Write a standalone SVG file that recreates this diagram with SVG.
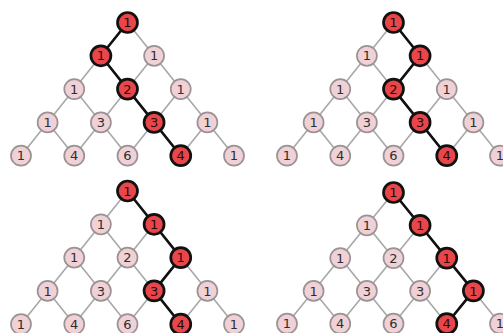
<svg xmlns="http://www.w3.org/2000/svg" width="503" height="333" viewBox="0 0 503 333">
<style>
.bg{fill:#ffffff}
.e{fill:none;stroke:#a8a8a8;stroke-width:1.6}
.p{fill:none;stroke:#111111;stroke-width:2.6;stroke-linejoin:round}
.n circle{fill:#f0d2d6;stroke:#9a9294;stroke-width:1.7}
.r circle{fill:#e8464a;stroke:#111111;stroke-width:2.7}
.n text,.r text{font-family:"DejaVu Sans",sans-serif;font-size:13px;fill:#2e2e2e;text-anchor:middle}
.r text{fill:#2a0808}
</style>
<defs>
<path id="lat" d="M0,0L-106.5,133.2M26.6,33.3L-53.25,133.2M53.25,66.6L0,133.2M79.9,99.9L53.25,133.2M0,0L106.5,133.2M-26.6,33.3L53.25,133.2M-53.25,66.6L0,133.2M-79.9,99.9L-53.25,133.2"/>
</defs>
<rect class="bg" x="0" y="0" width="503" height="333"/>
<g id="connectors">
<use href="#lat" class="e" transform="translate(127.5,22.5)"/>
<use href="#lat" class="e" transform="translate(393.5,22.5)"/>
<use href="#lat" class="e" transform="translate(127.5,191)"/>
<use href="#lat" class="e" transform="translate(393.5,192.5) scale(1,0.985)"/>
<path class="p" transform="translate(127.5,22.5)" d="M0,0L-26.6,33.3L0,66.6L26.6,99.9L53.25,133.2"/>
<path class="p" transform="translate(393.5,22.5)" d="M0,0L26.6,33.3L0,66.6L26.6,99.9L53.25,133.2"/>
<path class="p" transform="translate(127.5,191)" d="M0,0L26.6,33.3L53.25,66.6L26.6,99.9L53.25,133.2"/>
<path class="p" transform="translate(393.5,192.5) scale(1,0.985)" d="M0,0L26.6,33.3L53.25,66.6L79.9,99.9L53.25,133.2"/>
</g>
<g id="tl">
<g id="tl-0-0" class="r" transform="translate(127.5,22.5)"><circle r="10"/><text y="4.6">1</text></g>
<g id="tl-1-0" class="r" transform="translate(100.9,55.8)"><circle r="10"/><text y="4.6">1</text></g>
<g id="tl-1-1" class="n" transform="translate(154.1,55.8)"><circle r="10"/><text y="4.6">1</text></g>
<g id="tl-2-0" class="n" transform="translate(74.25,89.1)"><circle r="10"/><text y="4.6">1</text></g>
<g id="tl-2-1" class="r" transform="translate(127.5,89.1)"><circle r="10"/><text y="4.6">2</text></g>
<g id="tl-2-2" class="n" transform="translate(180.75,89.1)"><circle r="10"/><text y="4.6">1</text></g>
<g id="tl-3-0" class="n" transform="translate(47.6,122.4)"><circle r="10"/><text y="4.6">1</text></g>
<g id="tl-3-1" class="n" transform="translate(100.9,122.4)"><circle r="10"/><text y="4.6">3</text></g>
<g id="tl-3-2" class="r" transform="translate(154.1,122.4)"><circle r="10"/><text y="4.6">3</text></g>
<g id="tl-3-3" class="n" transform="translate(207.4,122.4)"><circle r="10"/><text y="4.6">1</text></g>
<g id="tl-4-0" class="n" transform="translate(21,155.7)"><circle r="10"/><text y="4.6">1</text></g>
<g id="tl-4-1" class="n" transform="translate(74.25,155.7)"><circle r="10"/><text y="4.6">4</text></g>
<g id="tl-4-2" class="n" transform="translate(127.5,155.7)"><circle r="10"/><text y="4.6">6</text></g>
<g id="tl-4-3" class="r" transform="translate(180.75,155.7)"><circle r="10"/><text y="4.6">4</text></g>
<g id="tl-4-4" class="n" transform="translate(234,155.7)"><circle r="10"/><text y="4.6">1</text></g>
</g>
<g id="tr">
<g id="tr-0-0" class="r" transform="translate(393.5,22.5)"><circle r="10"/><text y="4.6">1</text></g>
<g id="tr-1-0" class="n" transform="translate(366.9,55.8)"><circle r="10"/><text y="4.6">1</text></g>
<g id="tr-1-1" class="r" transform="translate(420.1,55.8)"><circle r="10"/><text y="4.6">1</text></g>
<g id="tr-2-0" class="n" transform="translate(340.25,89.1)"><circle r="10"/><text y="4.6">1</text></g>
<g id="tr-2-1" class="r" transform="translate(393.5,89.1)"><circle r="10"/><text y="4.6">2</text></g>
<g id="tr-2-2" class="n" transform="translate(446.75,89.1)"><circle r="10"/><text y="4.6">1</text></g>
<g id="tr-3-0" class="n" transform="translate(313.6,122.4)"><circle r="10"/><text y="4.6">1</text></g>
<g id="tr-3-1" class="n" transform="translate(366.9,122.4)"><circle r="10"/><text y="4.6">3</text></g>
<g id="tr-3-2" class="r" transform="translate(420.1,122.4)"><circle r="10"/><text y="4.6">3</text></g>
<g id="tr-3-3" class="n" transform="translate(473.4,122.4)"><circle r="10"/><text y="4.6">1</text></g>
<g id="tr-4-0" class="n" transform="translate(287,155.7)"><circle r="10"/><text y="4.6">1</text></g>
<g id="tr-4-1" class="n" transform="translate(340.25,155.7)"><circle r="10"/><text y="4.6">4</text></g>
<g id="tr-4-2" class="n" transform="translate(393.5,155.7)"><circle r="10"/><text y="4.6">6</text></g>
<g id="tr-4-3" class="r" transform="translate(446.75,155.7)"><circle r="10"/><text y="4.6">4</text></g>
<g id="tr-4-4" class="n" transform="translate(500,155.7)"><circle r="10"/><text y="4.6">1</text></g>
</g>
<g id="bl">
<g id="bl-0-0" class="r" transform="translate(127.5,191)"><circle r="10"/><text y="4.6">1</text></g>
<g id="bl-1-0" class="n" transform="translate(100.9,224.3)"><circle r="10"/><text y="4.6">1</text></g>
<g id="bl-1-1" class="r" transform="translate(154.1,224.3)"><circle r="10"/><text y="4.6">1</text></g>
<g id="bl-2-0" class="n" transform="translate(74.25,257.6)"><circle r="10"/><text y="4.6">1</text></g>
<g id="bl-2-1" class="n" transform="translate(127.5,257.6)"><circle r="10"/><text y="4.6">2</text></g>
<g id="bl-2-2" class="r" transform="translate(180.75,257.6)"><circle r="10"/><text y="4.6">1</text></g>
<g id="bl-3-0" class="n" transform="translate(47.6,290.9)"><circle r="10"/><text y="4.6">1</text></g>
<g id="bl-3-1" class="n" transform="translate(100.9,290.9)"><circle r="10"/><text y="4.6">3</text></g>
<g id="bl-3-2" class="r" transform="translate(154.1,290.9)"><circle r="10"/><text y="4.6">3</text></g>
<g id="bl-3-3" class="n" transform="translate(207.4,290.9)"><circle r="10"/><text y="4.6">1</text></g>
<g id="bl-4-0" class="n" transform="translate(21,324.2)"><circle r="10"/><text y="4.6">1</text></g>
<g id="bl-4-1" class="n" transform="translate(74.25,324.2)"><circle r="10"/><text y="4.6">4</text></g>
<g id="bl-4-2" class="n" transform="translate(127.5,324.2)"><circle r="10"/><text y="4.6">6</text></g>
<g id="bl-4-3" class="r" transform="translate(180.75,324.2)"><circle r="10"/><text y="4.6">4</text></g>
<g id="bl-4-4" class="n" transform="translate(234,324.2)"><circle r="10"/><text y="4.6">1</text></g>
</g>
<g id="br">
<g id="br-0-0" class="r" transform="translate(393.5,192.5)"><circle r="10"/><text y="4.6">1</text></g>
<g id="br-1-0" class="n" transform="translate(366.9,225.3)"><circle r="10"/><text y="4.6">1</text></g>
<g id="br-1-1" class="r" transform="translate(420.1,225.3)"><circle r="10"/><text y="4.6">1</text></g>
<g id="br-2-0" class="n" transform="translate(340.25,258.1)"><circle r="10"/><text y="4.6">1</text></g>
<g id="br-2-1" class="n" transform="translate(393.5,258.1)"><circle r="10"/><text y="4.6">2</text></g>
<g id="br-2-2" class="r" transform="translate(446.75,258.1)"><circle r="10"/><text y="4.6">1</text></g>
<g id="br-3-0" class="n" transform="translate(313.6,290.9)"><circle r="10"/><text y="4.6">1</text></g>
<g id="br-3-1" class="n" transform="translate(366.9,290.9)"><circle r="10"/><text y="4.6">3</text></g>
<g id="br-3-2" class="n" transform="translate(420.1,290.9)"><circle r="10"/><text y="4.6">3</text></g>
<g id="br-3-3" class="r" transform="translate(473.4,290.9)"><circle r="10"/><text y="4.6">1</text></g>
<g id="br-4-0" class="n" transform="translate(287,323.7)"><circle r="10"/><text y="4.6">1</text></g>
<g id="br-4-1" class="n" transform="translate(340.25,323.7)"><circle r="10"/><text y="4.6">4</text></g>
<g id="br-4-2" class="n" transform="translate(393.5,323.7)"><circle r="10"/><text y="4.6">6</text></g>
<g id="br-4-3" class="r" transform="translate(446.75,323.7)"><circle r="10"/><text y="4.6">4</text></g>
<g id="br-4-4" class="n" transform="translate(500,323.7)"><circle r="10"/><text y="4.6">1</text></g>
</g>
</svg>
